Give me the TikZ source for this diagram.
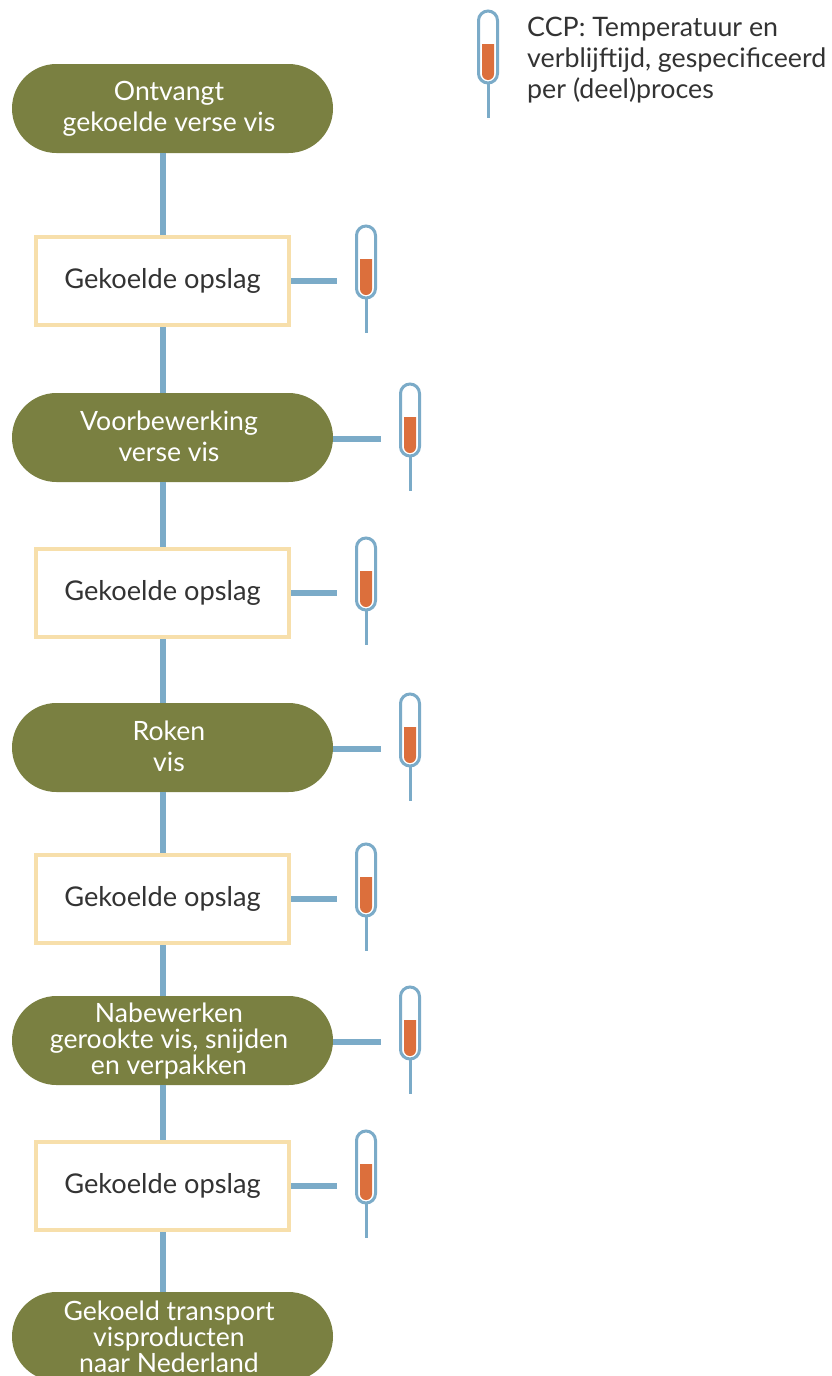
\documentclass[tikz,border=0pt]{standalone}
\usepackage{fontspec}
\setmainfont{Lato}
\usetikzlibrary{shapes.misc}
\definecolor{olive}{HTML}{7A8041}
\definecolor{pipe}{HTML}{7BABC8}
\definecolor{fillo}{HTML}{DC6F3C}
\definecolor{cream}{HTML}{F7DFAB}
\definecolor{ink}{HTML}{333333}
\tikzset{
  x=1pt,y=-1pt,
  pill/.style={rounded rectangle,fill=olive,minimum width=321pt,minimum height=89pt,inner sep=0pt},
  pilltext/.style={align=center,text=white,font=\fontsize{26.6}{26}\selectfont,inner sep=0pt},
  pilltextwide/.style={pilltext,font=\fontsize{26.6}{31}\selectfont},
  storebox/.style={draw=cream,line width=4pt,fill=white,minimum width=253pt,minimum height=88pt,inner sep=0pt,text=ink,font=\fontsize{27.2}{30}\selectfont},
  spine/.style={draw=pipe,line width=6.5pt},
  branch/.style={draw=pipe,line width=6pt},
  legendtext/.style={align=left,text=ink,anchor=north west,inner sep=0pt,font=\fontsize{26.8}{31}\selectfont},
  thermo/.pic={
    \fill[fillo] (-6,34) -- (6,34) -- (6,64) arc[start angle=0,end angle=180,x radius=6,y radius=6] -- cycle;
    \draw[pipe,line width=3pt] (-9.5,10.5) arc[start angle=180,end angle=360,x radius=9.5,y radius=9.5] -- (9.5,63.5) arc[start angle=0,end angle=180,x radius=9.5,y radius=9.5] -- cycle;
    \draw[pipe,line width=3pt] (0,73) -- (0,108);
  }
}
\begin{document}
\begin{tikzpicture}
\useasboundingbox (0,0) rectangle (831,1376);
\clip (0,0) rectangle (831,1376);
\coordinate (rail) at (163,0);
% flow nodes
\node[pill] (p1) at (172.5,108.5) {};
\node[storebox] (b1) at (162.5,281) {Gekoelde opslag};
\node[pill] (p2) at (172.5,437.5) {};
\node[storebox] (b2) at (162.5,593) {Gekoelde opslag};
\node[pill] (p3) at (172.5,747.5) {};
\node[storebox] (b3) at (162.5,899) {Gekoelde opslag};
\node[pill] (p4) at (172.5,1040.5) {};
\node[storebox] (b4) at (162.5,1186) {Gekoelde opslag};
\node[pill] (p5) at (172.5,1336.5) {};
% pill labels
\node[pilltextwide] (t1) at (169,109) {Ontvangt\\gekoelde verse vis};
\node[pilltextwide] (t2) at (169,436) {Voorbewerking\\verse vis};
\node[pilltextwide] (t3) at (169,746.5) {Roken\\vis};
\node[pilltext] (t4) at (169,1040.5) {Nabewerken\\gerookte vis, snijden\\en verpakken};
\node[pilltext] (t5) at (169,1336.5) {Gekoeld transport\\visproducten\\naar Nederland};
% spine
\draw[spine] (rail |- p1.south) -- (rail |- b1.north);
\draw[spine] (rail |- b1.south) -- (rail |- p2.north);
\draw[spine] (rail |- p2.south) -- (rail |- b2.north);
\draw[spine] (rail |- b2.south) -- (rail |- p3.north);
\draw[spine] (rail |- p3.south) -- (rail |- b3.north);
\draw[spine] (rail |- b3.south) -- (rail |- p4.north);
\draw[spine] (rail |- p4.south) -- (rail |- b4.north);
\draw[spine] (rail |- b4.south) -- (rail |- p5.north);
% branches
\coordinate (e1) at (337,281);
\coordinate (e2) at (381,438.5);
\coordinate (e3) at (337,593);
\coordinate (e4) at (381,749);
\coordinate (e5) at (337,899);
\coordinate (e6) at (381,1042);
\coordinate (e7) at (337,1186);
\draw[branch] (b1.east) -- (e1);
\draw[branch] (p2.east |- e2) -- (e2);
\draw[branch] (b2.east) -- (e3);
\draw[branch] (p3.east |- e4) -- (e4);
\draw[branch] (b3.east) -- (e5);
\draw[branch] (p4.east |- e6) -- (e6);
\draw[branch] (b4.east) -- (e7);
% thermometers
\pic at (366,225) {thermo};
\pic at (410,383) {thermo};
\pic at (366,537) {thermo};
\pic at (410,693) {thermo};
\pic at (366,843) {thermo};
\pic at (410,986) {thermo};
\pic at (366,1130) {thermo};
\pic at (488,10) {thermo};
% legend
\node[legendtext] (legend) at (527,16.5) {CCP: Temperatuur en\\verblijftijd, gespecificeerd\\per (deel)proces};
\end{tikzpicture}
\end{document}
